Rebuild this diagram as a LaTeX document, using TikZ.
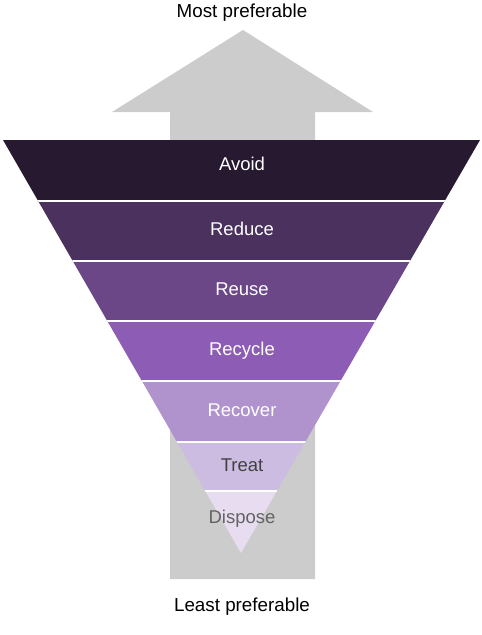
\documentclass[tikz,border=0pt]{standalone}
\usepackage{fontspec}
\setmainfont{Liberation Sans}
\usetikzlibrary{positioning}
\definecolor{shaft}{HTML}{CCCCCC}
\definecolor{lvA}{HTML}{271A30}
\definecolor{lvB}{HTML}{4B315E}
\definecolor{lvC}{HTML}{6C4788}
\definecolor{lvD}{HTML}{8D5CB4}
\definecolor{lvE}{HTML}{B093CD}
\definecolor{lvF}{HTML}{CDBCE1}
\definecolor{lvG}{HTML}{E7DCF0}
\definecolor{darktxt}{HTML}{404040}
\definecolor{greytxt}{HTML}{636363}
\tikzset{
  lvl/.style={align=center,font=\fontsize{18.5}{20}\selectfont,inner sep=1pt},
  heading/.style={align=center,font=\fontsize{18.8}{20}\selectfont,text=black,inner sep=1pt},
  gap/.style={draw=white,line width=2pt},
}
\begin{document}
\begin{tikzpicture}[x=1pt,y=-1pt]
  \useasboundingbox (0,0) rectangle (482,635);
  % ── the big arrow behind ──
  \fill[shaft] (243,30) -- (373,112) -- (315,112) -- (315,579) -- (170,579) -- (170,112) -- (112,112) -- cycle;

  % ── the funnel, cut out of one triangle ──
  \begin{scope}
    \clip (3,140) -- (480,140) -- (241,553) -- cycle;
    \foreach \t/\b/\col in {140/201/lvA,201/261/lvB,261/321/lvC,321/381/lvD,381/442/lvE,442/491/lvF,491/560/lvG}
      \fill[\col] (0,\t) rectangle (482,\b);
    \foreach \y in {201,261,321,381,442,491} \draw[gap] (0,\y) -- (482,\y);
  \end{scope}

  % labels
  \foreach \nm/\lbl/\y/\tc in {avoid/Avoid/164/white,reduce/Reduce/229/white,reuse/Reuse/289/white,recycle/Recycle/351/white,recover/Recover/410/white,treat/Treat/465/darktxt,dispose/Dispose/519/greytxt}
    \node[lvl,text=\tc] (\nm) at (242,\y) {\lbl};

  \node[heading] (most) at (242,13) {Most preferable};
  \node[heading] (least) at (242,607) {Least preferable};
\end{tikzpicture}
\end{document}
